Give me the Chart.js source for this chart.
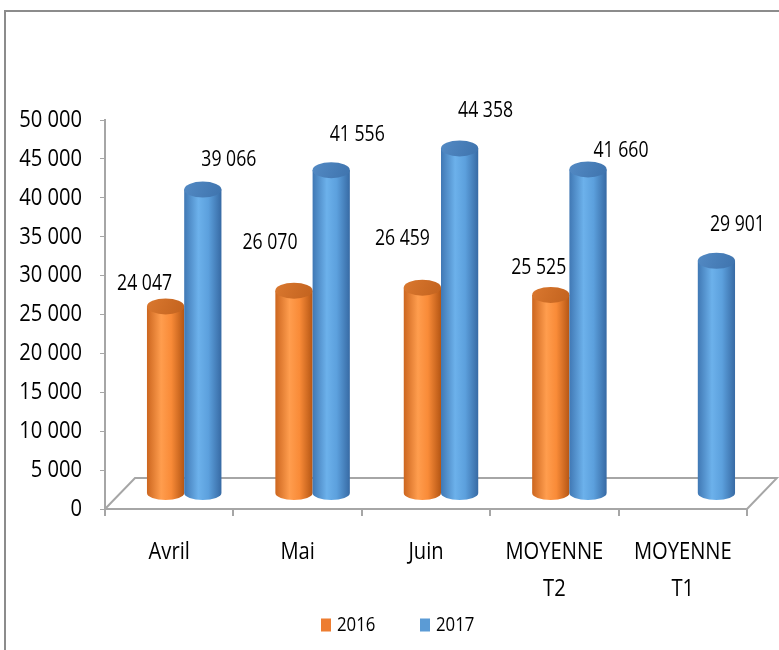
<!DOCTYPE html>
<html>
<head>
<meta charset="utf-8">
<script src="https://cdn.jsdelivr.net/npm/chart.js@4.4.1/dist/chart.umd.min.js"></script>
<style>
  html, body { margin: 0; padding: 0; background: #ffffff; }
  #wrap { position: relative; width: 779px; height: 650px; }
</style>
</head>
<body>
<div id="wrap"><canvas id="c" width="779" height="650"></canvas></div>
<script>
// ---- data ----
const categories = ['Avril', 'Mai', 'Juin', ['MOYENNE', 'T2'], ['MOYENNE', 'T1']];
const values2016 = [24047, 26070, 26459, 25525, null];
const values2017 = [39066, 41556, 44358, 41660, 29901];
const seriesNames = ['2016', '2017'];
const seriesColors = ['#ED7D31', '#5B9BD5'];
const yMin = 0, yMax = 50000, yStep = 5000;

const FONT_FAMILY = "'Open Sans', 'Liberation Sans', sans-serif";
const SX = 0.84; // horizontal condensing of text (narrow face look)

function fmt(n) {
  return String(n).replace(/\B(?=(\d{3})+(?!\d))/g, ' ');
}

function condText(ctx, text, x, y, align, size) {
  ctx.save();
  ctx.font = size + 'px ' + FONT_FAMILY;
  ctx.fillStyle = '#000000';
  ctx.textAlign = align;
  ctx.textBaseline = 'middle';
  ctx.translate(x, y);
  ctx.scale(SX, 1);
  ctx.fillText(text, 0, 0);
  ctx.restore();
}

const palettes = [
  { edgeL: '#CC661F', light: '#FF9D4E', mid: '#F98B38', edgeR: '#B55614', topL: '#DA782F', topR: '#C2621E' },
  { edgeL: '#4078B4', light: '#6CB1EB', mid: '#5CA0DD', edgeR: '#376AA4', topL: '#538AC4', topR: '#3E73AD' }
];

function drawCylinder(ctx, cx, top, base, w, pal) {
  const rx = w / 2, ryTop = 8, ryBot = 7;
  const left = cx - rx;
  const g = ctx.createLinearGradient(left, 0, left + w, 0);
  g.addColorStop(0, pal.edgeL);
  g.addColorStop(0.38, pal.light);
  g.addColorStop(0.65, pal.mid);
  g.addColorStop(1, pal.edgeR);
  ctx.fillStyle = g;
  ctx.beginPath();
  ctx.moveTo(left, top);
  ctx.lineTo(left, base);
  ctx.ellipse(cx, base, rx, ryBot, 0, Math.PI, 0, true);
  ctx.lineTo(left + w, top);
  ctx.closePath();
  ctx.fill();
  const gt = ctx.createLinearGradient(left, top - ryTop, left + w, top + ryTop);
  gt.addColorStop(0, pal.topL);
  gt.addColorStop(1, pal.topR);
  ctx.beginPath();
  ctx.ellipse(cx, top, rx, ryTop, 0, 0, Math.PI * 2);
  ctx.fillStyle = gt;
  ctx.fill();
}

const cylPlugin = {
  id: 'cyl3d',
  beforeDraw(chart, args, opts) {
    const ctx = chart.ctx;
    const a = chart.chartArea;
    ctx.save();
    // outer frame (left + top)
    ctx.strokeStyle = '#8C8C8C';
    ctx.lineWidth = 2;
    ctx.beginPath();
    ctx.moveTo(5, chart.height);
    ctx.lineTo(5, 11);
    ctx.lineTo(chart.width, 11);
    ctx.stroke();
    // floor parallelogram
    const dx = opts.depthX, dy = opts.depthY;
    ctx.strokeStyle = '#A6A6A6';
    ctx.lineWidth = 2;
    ctx.beginPath();
    ctx.moveTo(a.left, a.bottom);
    ctx.lineTo(a.left + dx, a.bottom + dy);
    ctx.lineTo(a.right + dx, a.bottom + dy);
    ctx.lineTo(a.right, a.bottom);
    ctx.stroke();
    ctx.restore();
  },
  beforeDatasetsDraw(chart, args, opts) {
    const ctx = chart.ctx;
    const tx = opts.depthX / 2, ty = opts.depthY / 2;
    ctx.save();
    ctx.translate(tx, ty);
    chart.data.datasets.forEach((ds, di) => {
      const meta = chart.getDatasetMeta(di);
      meta.data.forEach((el, i) => {
        const v = ds.data[i];
        if (v === null || v === undefined) return;
        const p = el.getProps(['x', 'y', 'base', 'width'], true);
        drawCylinder(ctx, p.x, p.y, p.base, p.width, palettes[di]);
      });
    });
    // value labels
    chart.data.datasets.forEach((ds, di) => {
      const meta = chart.getDatasetMeta(di);
      const nudges = opts.labelNudge[di];
      meta.data.forEach((el, i) => {
        const v = ds.data[i];
        if (v === null || v === undefined) return;
        const p = el.getProps(['x', 'y'], true);
        const n = nudges[i] || [0, -30];
        condText(ctx, fmt(v), p.x + n[0], p.y + n[1], 'center', opts.labelSize);
      });
    });
    ctx.restore();
    return false;
  },
  afterDraw(chart, args, opts) {
    const ctx = chart.ctx;
    const a = chart.chartArea;
    // y tick labels
    const ys = chart.scales.y;
    ys.ticks.forEach((t, i) => {
      condText(ctx, fmt(t.value), a.left - opts.yLabelGap, ys.getPixelForTick(i), 'right', opts.axisSize);
    });
    // x category labels
    const xs = chart.scales.x;
    xs.ticks.forEach((t, i) => {
      const lab = chart.data.labels[i];
      const lines = Array.isArray(lab) ? lab : [lab];
      const px = xs.getPixelForTick(i);
      lines.forEach((ln, k) => {
        condText(ctx, ln, px, a.bottom + opts.xLabelOffset + k * opts.xLineHeight, 'center', opts.axisSize);
      });
    });
    // legend
    const lg = opts.legend;
    chart.data.datasets.forEach((ds, di) => {
      const bx = lg.x + di * lg.step;
      ctx.fillStyle = ds.backgroundColor;
      ctx.fillRect(bx, lg.y - lg.boxH / 2, lg.boxW, lg.boxH);
      condText(ctx, ds.label, bx + lg.boxW + lg.textGap, lg.y, 'left', lg.size);
    });
  }
};

const ctx = document.getElementById('c').getContext('2d');
new Chart(ctx, {
  type: 'bar',
  data: {
    labels: categories,
    datasets: [
      { label: seriesNames[0], data: values2016, backgroundColor: seriesColors[0], borderWidth: 0 },
      { label: seriesNames[1], data: values2017, backgroundColor: seriesColors[1], borderWidth: 0 }
    ]
  },
  options: {
    responsive: false,
    animation: false,
    devicePixelRatio: 1,
    categoryPercentage: 0.58,
    barPercentage: 1.0,
    layout: { padding: { left: 100, right: 32, top: 120, bottom: 134 } },
    scales: {
      x: {
        grid: { display: true, drawOnChartArea: false, drawTicks: true, tickLength: 7, color: '#A6A6A6', lineWidth: 2, offset: true },
        border: { display: true, color: '#A6A6A6', width: 2 },
        ticks: { display: false, autoSkip: false }
      },
      y: {
        min: yMin, max: yMax,
        grid: { display: true, drawOnChartArea: false, drawTicks: true, tickLength: 5, color: '#A6A6A6', lineWidth: 1 },
        border: { display: true, color: '#A6A6A6', width: 2 },
        ticks: { display: false, stepSize: yStep }
      }
    },
    plugins: {
      legend: { display: false },
      tooltip: { enabled: false },
      cyl3d: {
        depthX: 30, depthY: -31,
        labelSize: 21,
        axisSize: 24,
        yLabelGap: 23,
        xLabelOffset: 43,
        xLineHeight: 37,
        legend: { x: 321, y: 625, step: 99, boxW: 10, boxH: 13, textGap: 6, size: 20 },
        labelNudge: [
          [[-21, -22], [-24, -48], [-20, -49], [-12, -27], null],
          [[26, -30], [26, -35], [26, -37], [33, -18], [21, -36]]
        ]
      }
    }
  },
  plugins: [cylPlugin]
});
</script>
</body>
</html>
